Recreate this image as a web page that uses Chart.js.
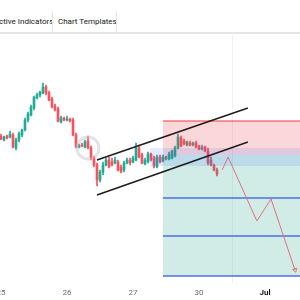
<!DOCTYPE html>
<html>
<head>
<meta charset="utf-8">
<script src="https://cdn.jsdelivr.net/npm/chart.js@4"></script>
<style>
  body { margin: 0; width: 300px; height: 300px; background: #fff; overflow: hidden; font-family: Roboto, "Liberation Sans", sans-serif; position: relative; }
  .bar { position: absolute; left: 0; top: 0; width: 300px; height: 32px; border-bottom: 2px solid #e4e6ec; }
  .tab { position: absolute; top: 12px; height: 20px; line-height: 20px; font-size: 8px; color: #131722; white-space: nowrap; }
  .sep { position: absolute; top: 11px; width: 1px; height: 21px; background: #e4e6ec; }
  #wrap { position: absolute; left: 0; top: 35px; width: 300px; height: 265px; }
</style>
</head>
<body>
<div class="bar">
  <div class="tab" style="left:-1px">ctive Indicators</div>
  <div class="sep" style="left:52px"></div>
  <div class="tab" style="left:58px">Chart Templates</div>
  <div class="sep" style="left:116px"></div>
</div>
<div id="wrap"><canvas id="c"></canvas></div>
<script>
// candles, one per bar index
const opens  = [164,160,164,163,165,152,160,165,170,180,185,192,202,205,207,213,207,201,194,191,178,182,180,181,180,165,153,155,153,159,152,142,135,120,128,135,140,138,137,138,133,130,137,140,138,140,152,145,136,138,146,142,133,143,139,143,141,142,144,152,162,159,155,157,155,157,154,151,153,149,140,135,130];
const highs  = [166,164,165,169,167,162,168,171,182,188,195,204,207,209,217,215,209,203,196,193,184,183,184,182,182,167,156,157,160,164,154,144,137,130,138,142,143,142,143,140,135,139,142,142,144,157,155,147,142,148,147,144,145,145,145,144,148,150,154,166,164,161,159,159,158,159,155,155,154,152,143,136,132];
const lows   = [160,159,161,162,152,150,158,163,169,178,184,190,201,203,206,205,199,192,189,178,177,179,179,178,164,152,152,153,152,151,140,133,114,118,125,134,132,134,136,129,127,128,136,135,137,139,142,136,135,137,139,132,132,137,138,140,140,141,143,151,153,155,154,154,154,152,150,150,148,135,134,129,124];
const closes = [161,163,162,166,153,160,166,170,180,186,193,203,205,208,213,207,200,193,190,179,182,180,181,179,165,153,155,154,158,152,142,135,120,128,135,140,133,135,140,130,128,137,140,137,142,152,143,137,140,146,140,134,143,138,143,141,146,149,152,163,154,156,158,155,157,153,151,153,149,137,135,130,126];

// x axis
const tickIdx = [0, 22, 44, 66, 88];
const tickLabels = ['25', '26', '27', '30', 'Jul'];

// drawings
const channelUpper = [[32, 140], [82.3, 192]];
const channelLower = [[32, 105], [82.3, 158]];
const pathX = [73.7, 75.7, 85.3, 90, 98];
const pathY = [130, 143, 79, 101, 30];
const boxStart = 54, boxEnd = 100;
const stopLevel = 179, entryLevel = 145;
const targetLevels = [102, 64, 24];
const bandStart = 49.7, bandTop = 152, bandBottom = 134;
const circleAt = [29, 152];

const up = '#22ab94', down = '#f7525f';
const candleColors = opens.map((o, i) => closes[i] >= o ? up : down);
const bodies = opens.map((o, i) => ({ x: i, y: [o, closes[i]] }));
const wicks = opens.map((o, i) => ({ x: i, y: [lows[i], highs[i]] }));
const seg = (a, b, y) => [{ x: a, y: y }, { x: b, y: y }];
const pts = arr => arr.map(p => ({ x: p[0], y: p[1] }));

const flat = (data, extra) => Object.assign({ type: 'line', data: data, pointRadius: 0, borderWidth: 0, fill: false }, extra);

const datasets = [
  { type: 'bar', data: wicks, backgroundColor: candleColors, barThickness: 1, grouped: false, order: 20 },
  { type: 'bar', data: bodies, backgroundColor: candleColors, barThickness: 2, minBarLength: 1, grouped: false, order: 19 },
  flat(seg(boxStart, boxEnd, stopLevel), { borderColor: '#f23645', borderWidth: 1, backgroundColor: 'rgba(242,54,69,0.2)', fill: { value: entryLevel }, order: 9 }),
  flat(seg(boxStart, boxEnd, entryLevel), { backgroundColor: 'rgba(8,153,129,0.19)', fill: { value: targetLevels[2] }, order: 8 }),
  flat(seg(bandStart, boxEnd, bandTop), { backgroundColor: 'rgba(41,98,255,0.13)', fill: { value: bandBottom }, order: 7 }),
  ...targetLevels.map(v => flat(seg(boxStart, boxEnd, v), { borderColor: '#4c6fe0', borderWidth: 1.5, order: 5 })),
  flat(pts(channelUpper), { borderColor: '#1c1c1c', borderWidth: 1.5, order: 2 }),
  flat(pts(channelLower), { borderColor: '#1c1c1c', borderWidth: 1.5, order: 2 }),
  flat(pathX.map((x, i) => ({ x: x, y: pathY[i] })), {
    borderColor: '#e0707a', borderWidth: 1,
    pointRadius: pathX.map((x, i) => i === pathX.length - 1 ? 2.5 : 0),
    pointStyle: 'triangle', rotation: 161, pointBorderColor: '#e0707a', pointBackgroundColor: 'rgba(0,0,0,0)', pointBorderWidth: 1,
    order: 1
  }),
  { type: 'scatter', data: [{ x: circleAt[0], y: circleAt[1] }], pointRadius: 11, borderWidth: 3,
    borderColor: 'rgba(190,192,200,0.45)', backgroundColor: 'rgba(0,0,0,0)', order: 3 }
];

new Chart(document.getElementById('c'), {
  type: 'bar',
  data: { datasets },
  options: {
    responsive: true,
    maintainAspectRatio: false,
    animation: false,
    layout: { padding: 0, autoPadding: false },
    plugins: { legend: { display: false }, tooltip: { enabled: false } },
    scales: {
      x: {
        type: 'linear', min: -1 / 3, max: 299 / 3, offset: false,
        afterFit: s => { s.height = 17; s.paddingLeft = 0; s.paddingRight = 0; },
        afterBuildTicks: s => { s.ticks = tickIdx.map(v => ({ value: v })); },
        border: { display: false },
        grid: { drawTicks: false, color: c => (c.tick && c.tick.value === 88) ? '#eef0f3' : 'rgba(0,0,0,0)' },
        ticks: {
          padding: 5, maxRotation: 0, autoSkip: false,
          color: c => c.index === 4 ? '#131722' : '#6a6d78',
          font: c => ({ size: 8, family: 'Roboto', weight: c.index === 4 ? 'bold' : 'normal' }),
          callback: (v, i) => tickLabels[i]
        }
      },
      y: { display: false, min: 17, max: 265 }
    }
  }
});
</script>
</body>
</html>
